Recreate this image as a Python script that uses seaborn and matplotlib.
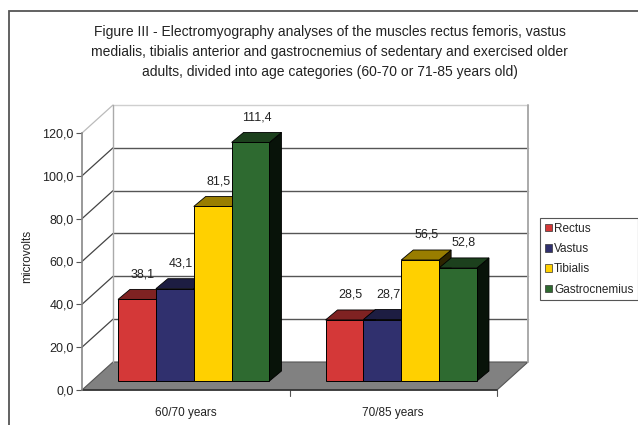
import numpy as np
import pandas as pd
import seaborn as sns
import matplotlib.pyplot as plt
import matplotlib.transforms as mtrans
from matplotlib.patches import Polygon, Rectangle, Patch
from matplotlib.lines import Line2D
from matplotlib.colors import to_rgb

# data
groups = ['60/70 years', '70/85 years']
muscles = ['Rectus', 'Vastus', 'Tibialis', 'Gastrocnemius']
rectus = [38.1, 28.5]
vastus = [43.1, 28.7]
tibialis = [81.5, 56.5]
gastrocnemius = [111.4, 52.8]
yticks = [0, 20, 40, 60, 80, 100, 120]

colors = ['#d43838', '#30306e', '#ffd000', '#2e6a30']

df = pd.DataFrame({
    'age': groups * 4,
    'muscle': np.repeat(muscles, 2),
    'uv': rectus + vastus + tibialis + gastrocnemius,
})

title = ("Figure III - Electromyography analyses of the muscles rectus femoris, vastus\n"
         "medialis, tibialis anterior and gastrocnemius of sedentary and exercised older\n"
         "adults, divided into age categories (60-70 or 71-85 years old)")

sns.set_theme(style='white')
plt.rcParams['font.family'] = ['Liberation Sans', 'DejaVu Sans']

W, H = 638, 425
fig = plt.figure(figsize=(W / 100, H / 100), dpi=100)
ax = fig.add_axes([82 / W, 1 - 390 / H, 415 / W, 257 / H])

sns.barplot(data=df, x='age', y='uv', hue='muscle', palette=colors, width=0.73,
            gap=0, saturation=1, edgecolor='black', linewidth=0.7, ax=ax,
            legend=False, zorder=3)
ax.set_xlim(-0.5, 1.5)
ax.set_ylim(0, 120)
ax.set_xlabel('')
ax.set_ylabel('microvolts', fontsize=8.5, color='#222')
ax.yaxis.set_label_coords(-0.118, 0.52)
ax.set_yticks(yticks)
ax.set_yticklabels([f'{v:.1f}'.replace('.', ',') for v in yticks])
ax.tick_params(axis='y', left=True, length=4, width=0.8, color='#555',
               labelsize=9, labelcolor='#222', pad=2)
ax.tick_params(axis='x', bottom=False, labelsize=8.5, labelcolor='#222', pad=6)
for s in ['top', 'right', 'bottom']:
    ax.spines[s].set_visible(False)
ax.spines['left'].set_color('#888')
ax.spines['left'].set_linewidth(1.2)
ax.patch.set_alpha(0)

# fake 3d: wall depth, bar front offset, bar depth (pixels)
DX, DY = 31, 28
BX, BY = 8, 9
bx, by = 12, 10


def px(x, y):
    return np.array(ax.transData.transform((x, y)))


ident = mtrans.IdentityTransform()


def poly(pts, fc, ec, lw=0.7, z=1):
    ax.add_patch(Polygon(pts, closed=True, facecolor=fc, edgecolor=ec, linewidth=lw,
                         transform=ident, clip_on=False, zorder=z))


def line(a, b, c, lw=1.0, z=1):
    ax.add_line(Line2D([a[0], b[0]], [a[1], b[1]], color=c, linewidth=lw,
                       transform=ident, clip_on=False, zorder=z))


d = np.array([DX, DY])
# floor
p0, p1 = px(-0.5, 0), px(1.5, 0)
poly([p0, p1, p1 + d, p0 + d], '#818181', '#555', 0.8, 1)
line(p0, p1, '#333', 1.2, 1.2)
# walls
for v in yticks[1:]:
    a, b = px(-0.5, v), px(1.5, v)
    c = '#cfcfcf' if v == 120 else '#555'
    line(a + d, b + d, c, 1.0)
    line(a, a + d, '#bbbbbb' if v == 120 else '#444', 0.9)
line(px(-0.5, 0) + d, px(-0.5, 120) + d, '#aaa', 1.0)
line(px(1.5, 0) + d, px(1.5, 120) + d, '#aaa', 1.4)
# category ticks under floor
for x in [0.5, 1.5]:
    q = px(x, 0)
    line(q, q - np.array([0, 6]), '#555', 0.8)


def shade(c, f):
    return tuple(np.array(to_rgb(c)) * f)


shift = mtrans.ScaledTranslation(BX / 100, BY / 100, fig.dpi_scale_trans)
o = np.array([BX, BY])
e = np.array([bx, by])
for cont, col in zip(ax.containers, colors):
    for p in cont:
        x0, w, h = p.get_x(), p.get_width(), p.get_height()
        p.set_transform(ax.transData + shift)
        fl, fr = px(x0, 0) + o, px(x0 + w, 0) + o
        tl, tr = px(x0, h) + o, px(x0 + w, h) + o
        poly([tl, tr, tr + e, tl + e], shade(col, 0.6), 'black', 0.6, 2.5)
        poly([fr, tr, tr + e, fr + e], shade(col, 0.18), 'black', 0.6, 2.4)
        lab = f'{h:.1f}'.replace('.', ',')
        mid = (tl + tr) / 2 + np.array([bx / 2, by + 9])
        ax.text(mid[0], mid[1], lab, transform=ident, ha='center', va='bottom',
                fontsize=9, color='#222', zorder=5)

handles = [Patch(facecolor=c, edgecolor='#333', linewidth=0.5) for c in colors]
ax.legend(handles, muscles, loc='upper left', bbox_to_anchor=(540 / W, 1 - 218 / H),
          bbox_transform=fig.transFigure, frameon=True, fancybox=False,
          edgecolor='#555', fontsize=8.5, handlelength=0.6, handleheight=0.6,
          handletextpad=0.2, labelspacing=0.7, borderpad=0.4, borderaxespad=0,
          framealpha=1)
ax.get_legend().get_frame().set_linewidth(0.8)

fig.text(0.517, 1 - 52 / H, title, ha='center', va='center', fontsize=10,
         linespacing=1.55, color='#222')
fig.add_artist(Rectangle((9 / W, -0.1), 1.2, 1 - 11 / H + 0.1, transform=fig.transFigure,
                         fill=False, edgecolor='#555', linewidth=1.3))

fig.savefig('out.png', dpi=100)
